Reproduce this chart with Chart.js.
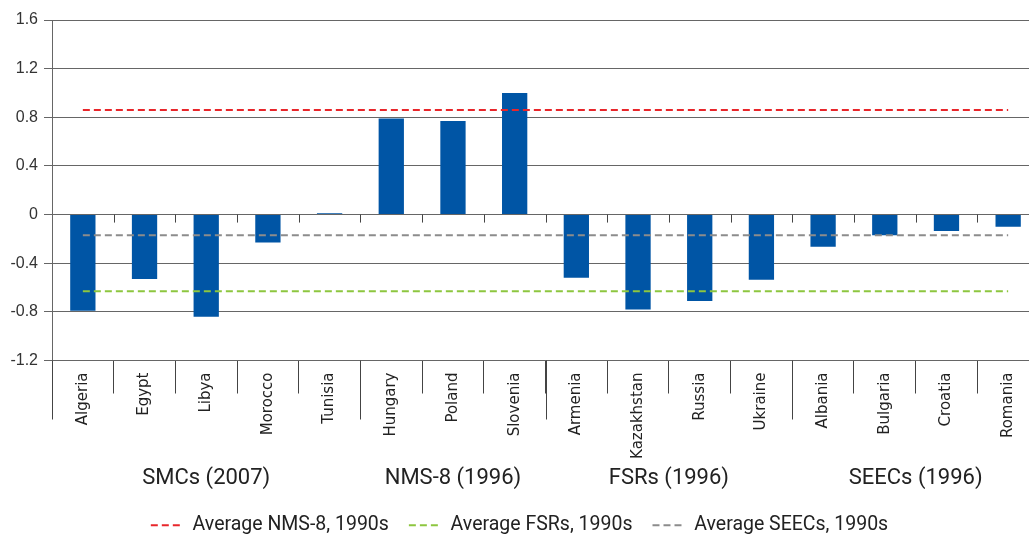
<!DOCTYPE html>
<html>
<head>
<meta charset="utf-8">
<script src="https://cdn.jsdelivr.net/npm/chart.js@4/dist/chart.umd.min.js"></script>
<style>
  html, body { margin: 0; padding: 0; background: #fff; overflow: hidden; }
  #wrap { position: relative; width: 1040px; height: 535px; }
</style>
</head>
<body>
<div id="wrap"><canvas id="chart"></canvas></div>
<script>
/* ── data ── */
const countries = ['Algeria','Egypt','Libya','Morocco','Tunisia','Hungary','Poland','Slovenia',
                   'Armenia','Kazakhstan','Russia','Ukraine','Albania','Bulgaria','Croatia','Romania'];
const values    = [-0.79,-0.53,-0.84,-0.23,0.01,0.79,0.77,1.00,
                   -0.52,-0.78,-0.71,-0.535,-0.265,-0.17,-0.135,-0.10];
const avgNms8   = [0.86,0.86,0.86,0.86,0.86,0.86,0.86,0.86,0.86,0.86,0.86,0.86,0.86,0.86,0.86,0.86];
const avgFsrs   = [-0.63,-0.63,-0.63,-0.63,-0.63,-0.63,-0.63,-0.63,-0.63,-0.63,-0.63,-0.63,-0.63,-0.63,-0.63,-0.63];
const avgSeecs  = [-0.17,-0.17,-0.17,-0.17,-0.17,-0.17,-0.17,-0.17,-0.17,-0.17,-0.17,-0.17,-0.17,-0.17,-0.17,-0.17];
const groups      = ['SMCs (2007)','NMS-8 (1996)','FSRs (1996)','SEECs (1996)'];
const groupSizes  = [5, 3, 4, 4];
const yTicks      = [-1.2,-0.8,-0.4,0,0.4,0.8,1.2,1.6];

const LABEL_FONT = 'Roboto, "DejaVu Sans", sans-serif';
const TICK_FONT  = '"DejaVu Sans", Roboto, sans-serif';
const DASH = [7, 4];

/* ── group separators + labels, zero-line ticks ── */
const groupAxis = {
    id: 'groupAxis',
    afterDraw(chart) {
        const x = chart.scales.x, y = chart.scales.y, ctx = chart.ctx;
        const half = (x.getPixelForValue(1) - x.getPixelForValue(0)) / 2;
        const edge = i => x.getPixelForValue(i) - half;
        const y0 = y.getPixelForValue(0);
        ctx.save();
        ctx.strokeStyle = '#444';
        ctx.lineWidth = 1;
        ctx.beginPath();
        for (let i = 1; i < countries.length; i++) {
            const px = Math.round(edge(i)) + 0.5;
            ctx.moveTo(px, y0); ctx.lineTo(px, y0 + 8);
        }
        let start = 0;
        const bounds = [0];
        groupSizes.forEach(n => { start += n; bounds.push(start); });
        bounds.forEach(i => {
            const px = Math.round(edge(i)) + 0.5;
            ctx.moveTo(px, y.bottom); ctx.lineTo(px, y.bottom + 59);
        });
        ctx.stroke();

        ctx.fillStyle = '#222';
        ctx.font = '22px ' + LABEL_FONT;
        ctx.textAlign = 'center';
        ctx.textBaseline = 'middle';
        groups.forEach((g, k) => {
            const cx = (edge(bounds[k]) + edge(bounds[k + 1])) / 2;
            ctx.fillText(g, cx, y.bottom + 118);
        });
        ctx.restore();
    }
};

const lineDs = (label, data, color) => ({
    type: 'line', label, data,
    borderColor: color, backgroundColor: color,
    borderWidth: 2, borderDash: DASH,
    pointRadius: 0, pointHoverRadius: 0, fill: false, order: 0
});

new Chart(document.getElementById('chart'), {
    type: 'bar',
    data: {
        labels: countries,
        datasets: [
            lineDs('Average NMS-8, 1990s', avgNms8, '#E8262B'),
            lineDs('Average FSRs, 1990s',  avgFsrs, '#8DC63F'),
            lineDs('Average SEECs, 1990s', avgSeecs, '#8C8C8C'),
            { label: 'Value', data: values, backgroundColor: '#0055A5',
              barPercentage: 0.41, categoryPercentage: 1.0, order: 1 }
        ]
    },
    options: {
        responsive: true,
        maintainAspectRatio: false,
        animation: false,
        layout: { padding: { top: 20, right: 1, left: 0, bottom: -10 } },
        plugins: {
            tooltip: { enabled: false },
            legend: {
                position: 'bottom',
                labels: {
                    generateLabels: chart => Chart.defaults.plugins.legend.labels.generateLabels(chart)
                        .filter(l => l.text !== 'Value')
                        .map(l => Object.assign(l, { lineDash: DASH, lineWidth: 2, pointStyle: 'line' })),
                    usePointStyle: true,
                    pointStyle: 'line',
                    pointStyleWidth: 32,
                    color: '#222',
                    padding: 20,
                    font: { family: LABEL_FONT, size: 19.5 }
                }
            }
        },
        scales: {
            x: {
                offset: true,
                grid: { offset: true, drawOnChartArea: false, drawTicks: true, tickLength: 33, color: '#444' },
                border: { display: false },
                ticks: {
                    autoSkip: false, maxRotation: 90, minRotation: 90, padding: -21,
                    color: '#222', font: { family: TICK_FONT, size: 15 }
                },
                afterFit: s => { s.height = 135; }
            },
            y: {
                min: -1.2, max: 1.6,
                afterBuildTicks: s => { s.ticks = yTicks.map(v => ({ value: v })); },
                grid: { color: '#666', lineWidth: 1, tickLength: 8, drawTicks: true },
                border: { color: '#666' },
                ticks: {
                    color: '#333', padding: 6,
                    font: { family: '"Liberation Sans", Arial, sans-serif', size: 16 },
                    callback: v => String(Math.round(v * 10) / 10)
                },
                afterFit: s => { s.width = 52; }
            }
        }
    },
    plugins: [groupAxis]
});
</script>
</body>
</html>
